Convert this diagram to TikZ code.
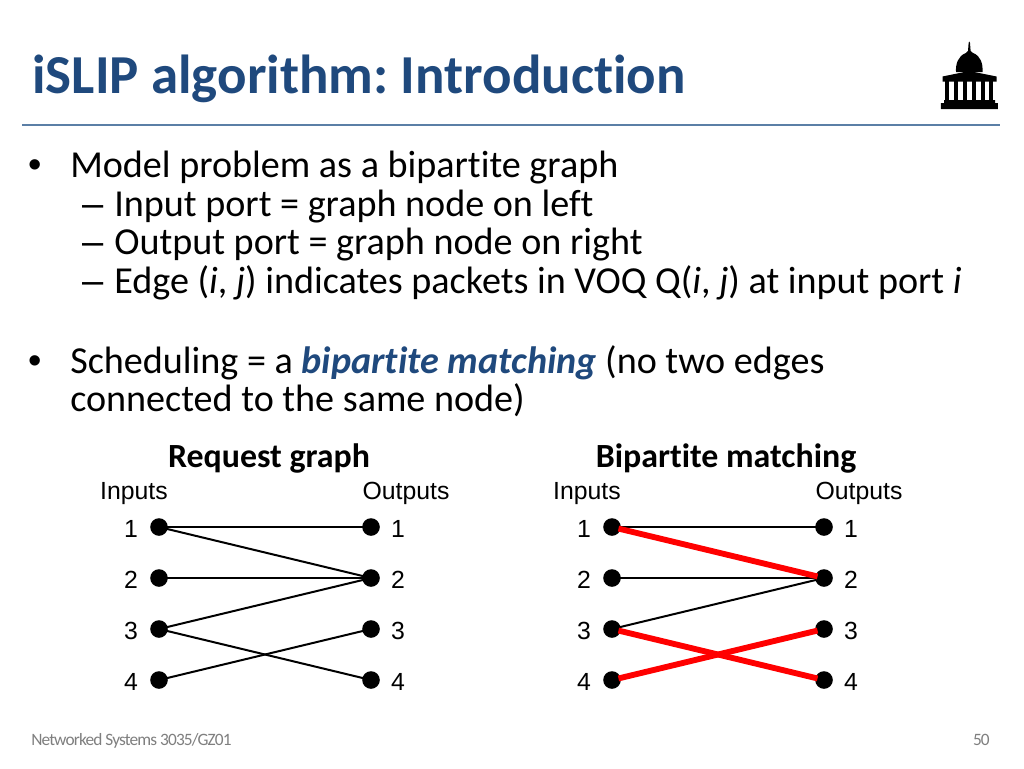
\documentclass[tikz,border=0pt]{standalone}
\usepackage{fontspec}
\setmainfont[Ligatures=NoCommon,Contextuals=NoAlternate]{Carlito}
\newfontfamily\arialf{Liberation Sans}
\newfontfamily\footf[Ligatures=NoCommon,LetterSpace=-5]{Carlito}
\definecolor{titleblue}{HTML}{1F497D}
\definecolor{rulec}{HTML}{5B7FA6}
\definecolor{footc}{HTML}{7F7F7F}
\newcommand{\bodysize}{\fontsize{28.6}{34}\selectfont}
\begin{document}
\begin{tikzpicture}[x=0.75pt,y=-0.75pt,
 titletext/.style={anchor=base west,inner sep=0pt,font=\fontsize{41.2}{48}\selectfont\bfseries,text=titleblue},
 body/.style={anchor=base west,inner sep=0pt,font=\bodysize,text=black},
 bullet/.style={anchor=base west,inner sep=0pt,font=\arialf\bodysize,text=black},
 head/.style={anchor=base,inner sep=0pt,font=\fontsize{25.4}{30}\selectfont\bfseries,text=black},
 lab/.style={anchor=base,inner sep=0pt,font=\arialf\fontsize{18.6}{22}\selectfont,text=black},
 foot/.style={anchor=base west,inner sep=0pt,font=\footf\fontsize{13}{15}\selectfont,text=footc},
 dot/.style={circle,fill=black,minimum size=13.2pt,inner sep=0pt},
 edge thin/.style={line width=1.5pt,black},
 edge red/.style={line width=4.4pt,red,shorten <=5pt,shorten >=5pt}]
\path[use as bounding box] (0,0) rectangle (1024,768);
\fill[white] (0,0) rectangle (1024,768);
% title
\node[titletext] (title) at (32,93) {iSLIP algorithm:\kern-3pt{} Introduction};
\coordinate (ruleL) at (22,125);
\coordinate (ruleR) at (1000,125);
\draw[rulec,line width=1pt] (ruleL) -- (ruleR);
% logo
\fill[black] (968.6,43) -- (969.3,41.5) -- (970,43) -- (970.6,51) -- (973,53)
  .. controls (981,56) and (983,64) .. (982.5,72) -- (956,72)
  .. controls (955.5,64) and (958,56) .. (965.8,53) -- (968,51) -- cycle;
\fill[black] (942.5,76.5) -- (969.3,71) -- (996.5,76.5) -- (996.5,81.5) -- (942.5,81.5) -- cycle;
\foreach \cx in {947.3,956,965,974,982.7,991}{
  \fill[black] (\cx-2,81) rectangle (\cx+2,101);}
\fill[black] (944,100) -- (995,100) -- (995,103) -- (997.8,103) -- (997.8,109) -- (940.8,109) -- (940.8,103) -- (944,103) -- cycle;
% body
\node[bullet] (b1m) at (28,177.5) {•};
\node[body] (b1) at (70,177.5) {Model problem as a bipartite graph};
\node[bullet] (s1d) at (82,216) {–};
\node[body] (s1) at (114,216) {Input port = graph node on left};
\node[bullet] (s2d) at (82,254.5) {–};
\node[body] (s2) at (114,254.5) {Output port = graph node on right};
\node[bullet] (s3d) at (82,293) {–};
\node[body] (s3) at (114,293) {Edge (\textit{i}, \textit{j}) indicates packets in VOQ Q(\textit{i}, \textit{j}) at input port \textit{i}};
\node[bullet] (b2m) at (28,373.5) {•};
\node[body] (b2) at (70,373.5) {Scheduling = a \textcolor{titleblue}{\textbf{\textit{bipartite matching}}} (no two edges};
\node[body] (b2b) at (70,411.5) {connected to the same node)};
% headings
\node[head] (h1) at (269,467) {Request graph};
\node[head] (h2) at (726,467) {Bipartite matching};
% graph labels
\node[lab] (li) at (134,499) {Inputs};
\node[lab] (lo) at (406,499) {Outputs};
\node[lab] (rli) at (587,499) {Inputs};
\node[lab] (rlo) at (859,499) {Outputs};
\foreach \n/\y in {1/527,2/578,3/629,4/680}{
  \node[dot] (a\n) at (159,\y) {};
  \node[dot] (b\n) at (371,\y) {};
  \node[dot] (c\n) at (612,\y) {};
  \node[dot] (d\n) at (824,\y) {};
  \node[lab,anchor=center] (na\n) at (131,\y+1.5) {\n};
  \node[lab,anchor=center] (nb\n) at (398,\y+1.5) {\n};
  \node[lab,anchor=center] (nc\n) at (584,\y+1.5) {\n};
  \node[lab,anchor=center] (nd\n) at (851,\y+1.5) {\n};
}
\draw[edge thin] (a1.center) -- (b1.center);
\draw[edge thin] (a1.center) -- (b2.center);
\draw[edge thin] (a2.center) -- (b2.center);
\draw[edge thin] (a3.center) -- (b2.center);
\draw[edge thin] (a3.center) -- (b4.center);
\draw[edge thin] (a4.center) -- (b3.center);
\draw[edge thin] (c1.center) -- (d1.center);
\draw[edge thin] (c2.center) -- (d2.center);
\draw[edge thin] (c3.center) -- (d2.center);
\draw[edge red] (c1.center) -- (d2.center);
\draw[edge red] (c3.center) -- (d4.center);
\draw[edge red] (c4.center) -- (d3.center);
% footer
\node[foot] (ft) at (31,745) {Networked Systems 3035/GZ01};
\node[foot,anchor=base east] (pg) at (990,745) {50};
\end{tikzpicture}
\end{document}
